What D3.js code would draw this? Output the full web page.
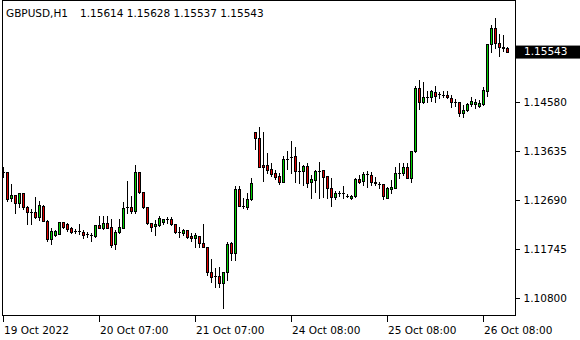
<!DOCTYPE html>
<html><head><meta charset="utf-8">
<script src="https://cdn.jsdelivr.net/npm/d3@7"></script>
<style>html,body{margin:0;padding:0;background:#fff;}svg{display:block;}</style>
</head><body>
<svg id="c" width="580" height="340"></svg>
<script>
const symbolTitle = "GBPUSD,H1";
const lastQuote = ["1.15614","1.15628","1.15537","1.15543"];
const currentPrice = 1.15543;

const open = [1.13226,1.13215,1.12713,1.12777,1.12617,1.12810,1.12545,1.12455,1.12443,1.12358,
1.12565,1.12281,1.11919,1.12005,1.12034,1.12250,1.12218,1.12146,1.12083,1.12083,
1.12069,1.12025,1.12005,1.11992,1.12198,1.12140,1.12243,1.12154,1.11832,1.12058,
1.12146,1.12536,1.12540,1.12474,1.13215,1.12841,1.12540,1.12231,1.12173,1.12204,
1.12262,1.12308,1.12314,1.12218,1.12058,1.12038,1.12102,1.11992,1.11942,1.11986,
1.11857,1.11780,1.11286,1.11209,1.11209,1.11074,1.11286,1.11851,1.11652,1.12887,
1.12571,1.12551,1.12700,1.13986,1.13870,1.13355,1.13355,1.13273,1.13195,1.13143,
1.13033,1.13477,1.13504,1.13529,1.13246,1.13246,1.13336,1.13033,1.13066,1.13246,
1.13253,1.13143,1.12906,1.12744,1.12810,1.12806,1.12758,1.12713,1.12758,1.13080,
1.13047,1.13176,1.13172,1.13037,1.12989,1.12989,1.12725,1.12887,1.12918,1.13207,
1.13207,1.13311,1.13111,1.13620,1.14835,1.14565,1.14673,1.14673,1.14758,1.14719,
1.14700,1.14705,1.14642,1.14565,1.14565,1.14364,1.14416,1.14526,1.14526,1.14499,
1.14532,1.14788,1.15689,1.15992,1.15703,1.15625,1.15614];
const high = [1.13311,1.13220,1.12989,1.12777,1.12815,1.12815,1.12565,1.12507,1.12732,1.12667,
1.12584,1.12295,1.12135,1.12102,1.12262,1.12256,1.12231,1.12160,1.12115,1.12218,
1.12102,1.12069,1.12038,1.12198,1.12372,1.12372,1.12372,1.12314,1.12102,1.12314,
1.12648,1.13053,1.12758,1.13355,1.13220,1.12841,1.12545,1.12237,1.12301,1.12372,
1.12314,1.12347,1.12347,1.12218,1.12165,1.12115,1.12102,1.12038,1.12050,1.11986,
1.12218,1.11780,1.11543,1.11363,1.11382,1.11286,1.11876,1.11876,1.12950,1.12950,
1.12713,1.12821,1.13099,1.13986,1.14094,1.13986,1.13581,1.13388,1.13259,1.13195,
1.13529,1.13631,1.13818,1.13697,1.13408,1.13355,1.13388,1.13163,1.13259,1.13419,
1.13259,1.13143,1.13099,1.12854,1.12860,1.12941,1.12796,1.12777,1.13099,1.13163,
1.13226,1.13234,1.13226,1.13118,1.13033,1.12989,1.12937,1.13066,1.13311,1.13388,
1.13400,1.13400,1.13620,1.14879,1.14995,1.14950,1.14788,1.14802,1.14879,1.14769,
1.14783,1.14788,1.14705,1.14623,1.14576,1.14513,1.14545,1.14661,1.14623,1.14609,
1.14866,1.15689,1.16055,1.16185,1.15882,1.15863,1.15628];
const low = [1.13118,1.12661,1.12667,1.12436,1.12551,1.12507,1.12218,1.12218,1.12328,1.12295,
1.12270,1.11890,1.11832,1.11986,1.12025,1.12146,1.12088,1.12038,1.12038,1.12025,
1.11953,1.11961,1.11896,1.11961,1.12135,1.12115,1.12140,1.11774,1.11730,1.12044,
1.12135,1.12424,1.12424,1.12424,1.12825,1.12520,1.12218,1.12088,1.12005,1.12179,
1.12218,1.12243,1.12198,1.12038,1.11973,1.12005,1.11942,1.11896,1.11780,1.11768,
1.11780,1.11234,1.11105,1.10997,1.11008,1.10592,1.11138,1.11523,1.11523,1.12571,
1.12520,1.12501,1.12680,1.13658,1.13323,1.13053,1.13195,1.13143,1.13080,1.12989,
1.13028,1.13273,1.13195,1.13033,1.13003,1.12970,1.12937,1.12725,1.12841,1.12725,
1.12732,1.12713,1.12571,1.12694,1.12758,1.12719,1.12732,1.12700,1.12744,1.13003,
1.12970,1.12925,1.12970,1.12964,1.12906,1.12694,1.12713,1.12821,1.12906,1.13099,
1.13163,1.13099,1.13033,1.13612,1.14435,1.14545,1.14576,1.14596,1.14576,1.14642,
1.14673,1.14642,1.14480,1.14493,1.14300,1.14287,1.14403,1.14493,1.14449,1.14480,
1.14513,1.14692,1.15541,1.15606,1.15463,1.15560,1.15537];
const close = [1.13220,1.12694,1.12777,1.12617,1.12810,1.12536,1.12455,1.12449,1.12358,1.12584,
1.12281,1.11919,1.12083,1.12083,1.12250,1.12165,1.12121,1.12069,1.12083,1.12083,
1.12005,1.12025,1.12005,1.12198,1.12140,1.12237,1.12146,1.11813,1.12069,1.12154,
1.12520,1.12536,1.12474,1.13215,1.12841,1.12540,1.12231,1.12165,1.12223,1.12328,
1.12308,1.12308,1.12218,1.12058,1.12058,1.12102,1.11973,1.11942,1.12005,1.11845,
1.11780,1.11286,1.11201,1.11209,1.11074,1.11286,1.11826,1.11652,1.12887,1.12571,
1.12571,1.12700,1.13008,1.13882,1.13323,1.13323,1.13259,1.13182,1.13130,1.13033,
1.13465,1.13477,1.13504,1.13246,1.13246,1.13336,1.13014,1.13085,1.13240,1.13246,
1.13130,1.12906,1.12732,1.12821,1.12810,1.12806,1.12758,1.12758,1.13080,1.13033,
1.13176,1.13176,1.13033,1.13003,1.12989,1.12758,1.12906,1.12937,1.13195,1.13207,
1.13311,1.13111,1.13620,1.14835,1.14565,1.14661,1.14673,1.14783,1.14692,1.14719,
1.14700,1.14673,1.14565,1.14565,1.14364,1.14416,1.14526,1.14590,1.14576,1.14557,
1.14802,1.15689,1.15992,1.15703,1.15625,1.15614,1.15543];

const priceTicks = [1.10800, 1.11745, 1.12690, 1.13635, 1.14580];
const timeTickIndex = [0, 24, 48, 72, 96, 120];
const timeTickLabels = ["19 Oct 2022","20 Oct 07:00","21 Oct 07:00","24 Oct 08:00","25 Oct 08:00","26 Oct 08:00"];

const bars = open.map((o,i)=>({i, o, h:high[i], l:low[i], c:close[i]}));

const svg = d3.select("#c");
const FONT = "DejaVu Sans, sans-serif";
const bullColor = "#00d000", bearColor = "#e00000";

const x = d3.scaleLinear().domain([0, open.length - 1]).range([3, 3 + 4*(open.length - 1)]);
const y = d3.scaleLinear().domain([1.108, 1.1458]).range([297.5, 101.5]);

const L = 2.5, R = 515.5, T = 0.5, B = 315.5;

// frame
svg.append("rect").attr("x", L).attr("y", T).attr("width", R-L).attr("height", B-T)
  .attr("fill", "none").attr("stroke", "#000").attr("stroke-width", 1);

const g = svg.append("g");
const px = i => Math.round(x(i));
const py = v => Math.round(y(v));

// wicks
g.selectAll("line.wick").data(bars).join("line").attr("class","wick")
  .attr("x1", d => px(d.i)+0.5).attr("x2", d => px(d.i)+0.5)
  .attr("y1", d => py(d.h)).attr("y2", d => py(d.l)+1)
  .attr("stroke", "#000").attr("stroke-width", 1).attr("shape-rendering","crispEdges");

// bodies
bars.forEach(d => {
  const top = py(Math.max(d.o, d.c)), bot = py(Math.min(d.o, d.c));
  if (bot - top < 1) {
    g.append("line").attr("x1", px(d.i)-1).attr("x2", px(d.i)+2)
      .attr("y1", top+0.5).attr("y2", top+0.5)
      .attr("stroke", "#000").attr("stroke-width", 1).attr("shape-rendering","crispEdges");
  } else {
    g.append("rect").attr("x", px(d.i)-0.5).attr("y", top+0.5)
      .attr("width", 2).attr("height", bot-top)
      .attr("fill", d.c > d.o ? bullColor : bearColor)
      .attr("stroke", "#000").attr("stroke-width", 1).attr("shape-rendering","crispEdges");
  }
});

// right price axis
const yAxis = d3.axisRight(y).tickValues(priceTicks).tickSize(4).tickPadding(4)
  .tickFormat(d3.format(".5f"));
const ya = svg.append("g").attr("transform", `translate(${R},0)`).call(yAxis);
ya.select(".domain").remove();
ya.selectAll(".tick line").attr("stroke", "#000").attr("shape-rendering","crispEdges");
ya.selectAll(".tick text").attr("font-family", FONT).attr("font-size", "10.5px").attr("fill", "#000")
  .attr("x", 8).attr("dy", "0.35em");

// current price box
const cy = y(currentPrice);
svg.append("rect").attr("x", 516).attr("y", cy - 6).attr("width", 64).attr("height", 13).attr("fill", "#000");
svg.append("text").attr("x", 524).attr("y", cy).attr("dy", "0.36em")
  .attr("font-family", FONT).attr("font-size", "10.5px").attr("fill", "#fff")
  .text(d3.format(".5f")(currentPrice));

// bottom time axis
const xa = svg.append("g").attr("transform", `translate(0,${B})`);
xa.selectAll("line").data(timeTickIndex).join("line")
  .attr("x1", d => px(d)+0.5).attr("x2", d => px(d)+0.5).attr("y1", 0.5).attr("y2", 6)
  .attr("stroke", "#000").attr("shape-rendering","crispEdges");
xa.selectAll("text").data(timeTickIndex).join("text")
  .attr("x", d => px(d)+1).attr("y", 18)
  .attr("font-family", FONT).attr("font-size", "10.5px").attr("fill", "#000")
  .text((d,k) => timeTickLabels[k]);

// title
svg.append("text").attr("x", 6).attr("y", 17).attr("font-family", FONT).attr("font-size", "10.5px")
  .attr("fill", "#000").text(symbolTitle);
svg.append("text").attr("x", 80).attr("y", 17).attr("font-family", FONT).attr("font-size", "10.5px")
  .attr("fill", "#000").text(lastQuote.join(" "));
</script>
</body></html>
